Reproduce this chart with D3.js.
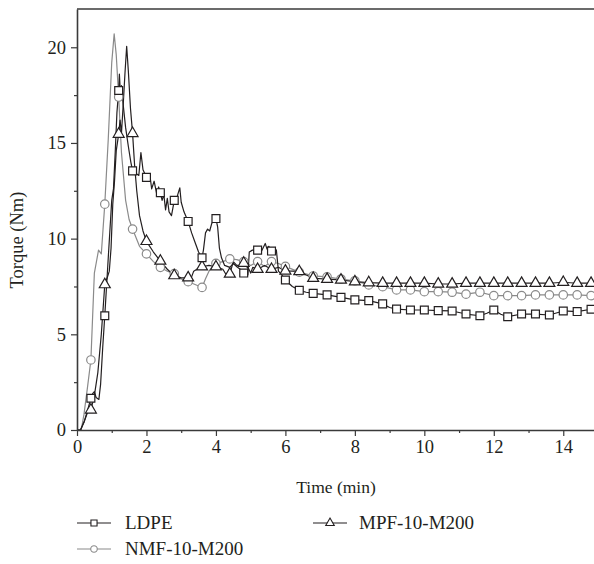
<!DOCTYPE html>
<html>
<head>
<meta charset="utf-8">
<script src="https://cdn.jsdelivr.net/npm/d3@7"></script>
<style>
  body { margin: 0; background: #fff; }
  text { font-family: "Liberation Serif", "DejaVu Serif", serif; fill: #231f20; }
</style>
</head>
<body>
<svg id="chart"></svg>
<script>
// marker points (every 0.4 min) and extra line points, [time, torque]
var ldpeMarks = [[0.4,1.66],[0.8,5.97],[1.2,17.74],[1.6,13.54],[2.0,13.2],[2.4,12.4],[2.8,12.0],[3.2,10.9],[3.6,9.0],[4.0,11.05],
  [4.8,8.2],[5.2,9.4],[5.6,9.35],[6.0,7.84],[6.4,7.3],[6.8,7.14],[7.2,7.06],[7.6,6.93],[8.0,6.8],[8.4,6.76],[8.8,6.59],
  [9.2,6.32],[9.6,6.27],[10.0,6.27],[10.4,6.24],[10.8,6.22],[11.2,6.06],[11.6,5.97],[12.0,6.27],[12.4,5.92],[12.8,6.06],
  [13.2,6.06],[13.6,6.01],[14.0,6.22],[14.4,6.19],[14.8,6.31]];
var ldpeLine = [[0,0],[0.1,0],[0.2,0.4],[0.3,1.0],[0.45,1.9],[0.5,2.0],[0.55,1.7],[0.63,1.6],[0.68,2.4],[0.74,4.3],[0.9,9.0],
  [1.0,12.0],[1.05,12.6],[1.1,14.5],[1.15,16.6],[1.22,18.6],[1.25,17.6],[1.28,18.0],[1.33,17.0],[1.4,15.8],[1.48,14.8],
  [1.55,14.0],[1.7,13.4],[1.78,13.3],[1.84,14.5],[1.9,13.6],[1.95,13.4],[2.05,13.0],[2.1,13.3],[2.15,12.6],[2.22,13.0],
  [2.3,12.3],[2.35,12.7],[2.45,12.0],[2.5,12.3],[2.55,11.5],[2.6,12.1],[2.65,11.4],[2.72,11.2],[2.76,11.6],[2.86,12.0],
  [2.9,12.3],[2.96,12.65],[3.0,11.9],[3.08,11.4],[3.3,10.3],[3.4,9.8],[3.5,9.3],[3.64,9.4],[3.7,10.3],[3.76,10.5],
  [3.82,10.4],[3.88,10.8],[4.05,10.6],[4.1,9.5],[4.16,9.0],[4.25,8.6],[4.4,8.5],[4.5,8.7],[4.62,8.5],[4.7,8.4],
  [4.86,8.35],[4.92,8.1],[4.96,9.3],[5.05,9.4],[5.3,9.3],[5.42,9.75],[5.47,9.45],[5.52,9.6],[5.66,9.5],[5.74,9.4],
  [5.8,8.3],[5.9,8.1],[6.2,7.5],[6.6,7.2],[9.0,6.4],[11.8,6.1],[12.2,6.05]];

var mpfMarks = [[0.4,1.05],[0.8,7.6],[1.2,15.46],[1.6,15.5],[2.0,9.86],[2.4,8.83],[2.8,8.07],[3.2,7.96],[3.6,8.53],[4.0,8.53],
  [4.4,8.15],[4.8,8.72],[5.2,8.4],[5.6,8.4],[6.0,8.31],[6.4,8.28],[6.8,7.93],[7.2,7.88],[7.6,7.84],[8.0,7.75],[8.4,7.7],
  [8.8,7.67],[9.2,7.67],[9.6,7.67],[10.0,7.67],[10.4,7.63],[10.8,7.63],[11.2,7.67],[11.6,7.67],[12.0,7.67],[12.4,7.67],
  [12.8,7.67],[13.2,7.67],[13.6,7.67],[14.0,7.72],[14.4,7.67],[14.8,7.67]];
var mpfLine = [[0,0],[0.1,0],[0.2,0.4],[0.3,0.9],[0.5,1.8],[0.6,3.0],[0.7,5.0],[0.86,7.9],[0.93,8.3],[0.98,9.5],[1.03,11.8],
  [1.08,13.0],[1.13,14.6],[1.24,16.2],[1.28,15.5],[1.33,17.0],[1.38,18.6],[1.43,20.05],[1.48,18.7],[1.54,16.8],[1.66,13.8],
  [1.72,12.5],[1.8,11.2],[1.9,10.4],[2.2,9.3],[2.6,8.4],[3.0,7.95],[3.3,8.0],[3.36,8.3],[3.45,8.4],[3.8,8.6],[4.2,8.4],
  [4.3,8.1],[4.5,8.8],[4.6,8.6],[4.7,8.6],[4.95,8.4],[5.0,8.2],[5.06,8.5],[5.4,8.6],[5.8,8.5],[6.2,8.3],[6.6,8.1]];

var nmfMarks = [[0.4,3.66],[0.8,11.8],[1.2,17.4],[1.6,10.5],[2.0,9.2],[2.4,8.5],[2.8,8.17],[3.2,7.75],[3.6,7.45],[4.0,8.71],
  [4.4,8.94],[4.8,8.8],[5.2,8.8],[5.6,8.8],[6.0,8.55],[6.4,8.25],[6.8,8.05],[7.2,8.0],[7.6,7.89],[8.0,7.8],[8.4,7.58],
  [8.8,7.49],[9.2,7.32],[9.6,7.32],[10.0,7.23],[10.4,7.23],[10.8,7.2],[11.2,7.1],[11.6,7.2],[12.0,7.02],[12.4,7.02],
  [12.8,7.02],[13.2,7.06],[13.6,7.06],[14.0,7.06],[14.4,7.06],[14.8,7.02]];
var nmfLine = [[0,0],[0.12,0],[0.2,0.8],[0.3,2.2],[0.5,8.2],[0.56,8.8],[0.62,9.4],[0.7,9.2],[0.75,10.5],[0.9,15.2],[1.0,19.2],
  [1.07,20.7],[1.13,19.6],[1.28,14.5],[1.4,12.0],[1.5,11.0],[1.8,9.6],[2.2,8.8],[2.6,8.3],[3.0,7.9],[3.4,7.6],[3.7,7.9],
  [3.8,8.3],[3.9,8.55],[4.2,8.8],[4.6,8.9],[5.0,8.6],[5.4,8.55],[5.8,8.7]];

var xTicks = [0, 2, 4, 6, 8, 10, 12, 14];
var yTicks = [0, 5, 10, 15, 20];

var series = [
  { name: "LDPE", marks: ldpeMarks, line: ldpeLine, color: "#231f20", symbol: d3.symbolSquare, size: 62 },
  { name: "MPF-10-M200", marks: mpfMarks, line: mpfLine, color: "#231f20", symbol: d3.symbolTriangle, size: 52 },
  { name: "NMF-10-M200", marks: nmfMarks, line: nmfLine, color: "#8a8a8a", symbol: d3.symbolCircle, size: 56 }
];

var w = 594, h = 564;
var svg = d3.select("#chart").attr("width", w).attr("height", h);

var x = d3.scaleLinear().domain([0, 15]).range([77, 598]);
var y = d3.scaleLinear().domain([0, 22]).range([430, 9]);

var line = d3.line()
  .x(function(d) { return x(d[0]); })
  .y(function(d) { return y(d[1]); });

// lines first, then markers on top
series.slice().reverse().forEach(function(s) {
  var pts = s.line.concat(s.marks).sort(function(a, b) { return a[0] - b[0]; });
  svg.append("path")
    .datum(pts)
    .attr("d", line)
    .attr("fill", "none")
    .attr("stroke", s.color)
    .attr("stroke-width", 1.2)
    .attr("stroke-linejoin", "round");
});

series.slice().reverse().forEach(function(s) {
  svg.append("g").selectAll("path")
    .data(s.marks)
    .join("path")
    .attr("transform", function(d) { return "translate(" + x(d[0]) + "," + y(d[1]) + ")"; })
    .attr("d", d3.symbol().type(s.symbol).size(s.size))
    .attr("fill", "#fff")
    .attr("stroke", s.color)
    .attr("stroke-width", 1.2);
});

// axes
var axisColor = "#3a3a3a";
svg.append("g")
  .attr("transform", "translate(0,430)")
  .call(d3.axisBottom(x).tickValues(xTicks).tickSize(6).tickPadding(4).tickSizeOuter(0));
svg.append("g")
  .attr("transform", "translate(0,430)")
  .call(d3.axisBottom(x).tickValues(d3.range(1, 15, 2)).tickSize(3).tickFormat("").tickSizeOuter(0))
  .select(".domain").remove();

svg.append("g")
  .attr("transform", "translate(77,0)")
  .call(d3.axisLeft(y).tickValues(yTicks).tickSize(6).tickPadding(5).tickSizeOuter(0));
svg.append("g")
  .attr("transform", "translate(77,0)")
  .call(d3.axisLeft(y).tickValues([2.5, 7.5, 12.5, 17.5]).tickSize(3).tickFormat("").tickSizeOuter(0))
  .select(".domain").remove();

svg.selectAll(".domain").attr("stroke", axisColor).attr("stroke-width", 1.6);
svg.selectAll(".tick line").attr("stroke", axisColor).attr("stroke-width", 1.2);
svg.selectAll(".tick text")
  .attr("font-family", "Liberation Serif, serif")
  .attr("font-size", 18.5)
  .attr("fill", "#231f20");

// top frame line
svg.append("line")
  .attr("x1", x(0)).attr("x2", w)
  .attr("y1", y(22)).attr("y2", y(22))
  .attr("stroke", axisColor)
  .attr("stroke-width", 1.6);

svg.append("text")
  .attr("x", 336).attr("y", 493)
  .attr("text-anchor", "middle")
  .attr("font-size", 17.5)
  .text("Time (min)");

svg.append("text")
  .attr("transform", "translate(23,240) rotate(-90)")
  .attr("text-anchor", "middle")
  .attr("font-size", 18.5)
  .text("Torque (Nm)");

// legend
var legendPos = [[77, 523], [313, 523], [77, 549]];
series.forEach(function(s, i) {
  var g = svg.append("g").attr("transform", "translate(" + legendPos[i][0] + "," + legendPos[i][1] + ")");
  g.append("line")
    .attr("x1", 0).attr("x2", 34)
    .attr("stroke", s.color).attr("stroke-width", 1.2);
  g.append("path")
    .attr("transform", "translate(17,0)")
    .attr("d", d3.symbol().type(s.symbol).size(s.size * 0.6))
    .attr("fill", "#fff")
    .attr("stroke", s.color)
    .attr("stroke-width", 1.1);
  g.append("text")
    .attr("x", i == 1 ? 46 : 48).attr("y", 6)
    .attr("font-size", 19)
    .text(s.name);
});
</script>
</body>
</html>
